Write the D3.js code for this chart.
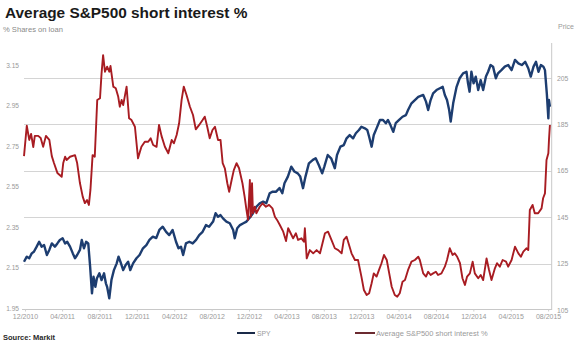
<!DOCTYPE html>
<html>
<head>
<meta charset="utf-8">
<script src="https://cdn.jsdelivr.net/npm/d3@7"></script>
<style>
  html, body { margin: 0; padding: 0; background: #fff; }
  svg { display: block; font-family: "Liberation Sans", Arial, sans-serif; }
</style>
</head>
<body>
<svg id="chart" width="586" height="355"></svg>
<script>
// ---------- DATA ----------
const titleText = "Average S&P500 short interest %";
const subtitleText = "% Shares on loan";
const rightAxisTitle = "Price";
const sourceText = "Source: Markit";

const leftTicks = [1.95, 2.15, 2.35, 2.55, 2.75, 2.95, 3.15];
const rightTicks = [105, 125, 145, 165, 185, 205];
const xTickDates = ["2010-12-31","2011-04-30","2011-08-29","2011-12-28","2012-04-27","2012-08-26",
  "2012-12-25","2013-04-25","2013-08-24","2013-12-23","2014-04-23","2014-08-22","2014-12-21",
  "2015-04-21","2015-08-20"];
const xTickLabels = ["12/2010","04/2011","08/2011","12/2011","04/2012","08/2012","12/2012",
  "04/2013","08/2013","12/2013","04/2014","08/2014","12/2014","04/2015","08/2015"];

const seriesNames = ["SPY", "Average S&P500 short interest %"];

// SPY price (right axis)
const spy = [
["2010-12-31",125.8],["2011-01-09",128.0],["2011-01-17",127.3],["2011-01-25",129.4],["2011-02-01",130.1],
["2011-02-10",132.3],["2011-02-18",134.4],["2011-02-26",132.3],["2011-03-06",133.0],["2011-03-15",128.7],
["2011-03-23",130.9],["2011-03-31",133.7],["2011-04-10",132.3],["2011-04-18",133.7],["2011-04-26",135.2],
["2011-05-05",135.9],["2011-05-13",133.7],["2011-05-20",134.4],["2011-05-29",132.3],["2011-06-07",129.4],
["2011-06-14",127.3],["2011-06-21",128.7],["2011-06-30",130.9],["2011-07-06",135.2],["2011-07-13",131.6],
["2011-07-20",134.4],["2011-07-27",133.7],["2011-08-02",123.7],["2011-08-08",112.2],["2011-08-13",119.4],
["2011-08-19",115.0],["2011-08-24",118.7],["2011-09-01",120.8],["2011-09-08",117.9],["2011-09-16",120.8],
["2011-09-22",116.5],["2011-09-26",115.0],["2011-10-03",110.0],["2011-10-10",117.9],["2011-10-18",122.2],
["2011-10-27",125.1],["2011-11-02",128.0],["2011-11-08",125.8],["2011-11-17",122.2],["2011-11-25",124.4],
["2011-12-03",125.8],["2011-12-10",122.2],["2011-12-19",125.1],["2011-12-30",127.3],["2012-01-09",128.7],
["2012-01-20",131.6],["2012-01-31",133.0],["2012-02-10",135.2],["2012-02-21",136.6],["2012-03-03",136.0],
["2012-03-13",139.5],["2012-03-24",140.9],["2012-04-04",138.7],["2012-04-14",137.3],["2012-04-25",139.5],
["2012-05-06",134.4],["2012-05-14",131.6],["2012-05-22",132.3],["2012-05-29",128.7],["2012-06-07",133.7],
["2012-06-18",134.4],["2012-06-29",133.7],["2012-07-10",135.2],["2012-07-20",137.3],["2012-07-31",138.7],
["2012-08-11",141.6],["2012-08-21",140.9],["2012-09-03",143.1],["2012-09-11",146.7],["2012-09-19",145.2],
["2012-09-27",145.9],["2012-10-05",144.5],["2012-10-16",143.1],["2012-10-27",142.4],["2012-11-07",139.5],
["2012-11-12",135.9],["2012-11-20",140.2],["2012-11-29",141.6],["2012-12-10",142.4],["2012-12-20",143.1],
["2012-12-31",144.9],["2013-01-10",146.7],["2013-01-21",149.5],["2013-02-01",151.0],["2013-02-12",151.7],
["2013-02-22",151.0],["2013-03-05",155.3],["2013-03-15",156.0],["2013-03-26",156.0],["2013-04-06",157.6],
["2013-04-15",155.3],["2013-04-22",159.6],["2013-05-03",162.5],["2013-05-14",166.8],["2013-05-24",164.7],
["2013-06-04",163.9],["2013-06-12",162.5],["2013-06-21",157.5],["2013-06-29",162.5],["2013-07-10",168.2],
["2013-07-23",169.7],["2013-08-01",170.4],["2013-08-11",167.5],["2013-08-22",163.9],["2013-08-29",166.8],
["2013-09-09",171.8],["2013-09-20",170.4],["2013-10-02",166.1],["2013-10-09",171.8],["2013-10-20",175.4],
["2013-10-31",176.1],["2013-11-09",179.0],["2013-11-19",180.4],["2013-11-30",179.0],["2013-12-09",181.2],
["2013-12-19",182.6],["2013-12-27",184.0],["2014-01-07",183.3],["2014-01-15",182.6],["2014-01-21",179.7],
["2014-01-29",175.4],["2014-02-05",180.4],["2014-02-14",183.3],["2014-02-25",186.9],["2014-03-07",186.9],
["2014-03-16",185.5],["2014-03-23",186.9],["2014-03-31",184.7],["2014-04-09",181.8],["2014-04-17",185.5],
["2014-04-28",186.9],["2014-05-09",188.3],["2014-05-20",189.0],["2014-05-27",191.2],["2014-06-07",194.1],
["2014-06-18",195.5],["2014-06-29",196.9],["2014-07-15",197.7],["2014-07-24",194.8],["2014-07-31",191.2],
["2014-08-08",195.5],["2014-08-16",198.4],["2014-08-27",199.8],["2014-09-07",200.6],["2014-09-16",201.2],
["2014-09-23",197.7],["2014-09-30",195.5],["2014-10-07",191.2],["2014-10-12",186.2],["2014-10-20",194.1],
["2014-10-31",201.2],["2014-11-10",204.9],["2014-11-21",207.0],["2014-12-02",207.7],["2014-12-07",202.7],
["2014-12-12",199.1],["2014-12-18",207.7],["2014-12-25",202.7],["2015-01-01",205.6],["2015-01-09",199.8],
["2015-01-17",204.1],["2015-01-25",199.8],["2015-02-03",205.6],["2015-02-10",207.7],["2015-02-18",210.6],
["2015-02-26",209.9],["2015-03-07",204.9],["2015-03-14",207.0],["2015-03-25",208.4],["2015-04-05",209.9],
["2015-04-16",210.6],["2015-04-27",208.4],["2015-05-08",212.8],["2015-05-19",211.3],["2015-05-30",210.6],
["2015-06-10",212.0],["2015-06-20",209.2],["2015-06-28",205.6],["2015-07-07",209.9],["2015-07-15",212.0],
["2015-07-23",207.7],["2015-07-31",210.6],["2015-08-08",209.9],["2015-08-13",208.4],["2015-08-19",198.4],
["2015-08-24",187.6],["2015-08-26",195.5],["2015-08-29",192.6]
];

// Average S&P500 short interest % (left axis)
const shortInterest = [
["2010-12-31",2.70],["2011-01-09",2.85],["2011-01-17",2.78],["2011-01-23",2.81],["2011-01-30",2.745],
["2011-02-04",2.80],["2011-02-15",2.80],["2011-02-23",2.79],["2011-03-03",2.746],["2011-03-12",2.80],
["2011-03-23",2.78],["2011-03-31",2.70],["2011-04-07",2.666],["2011-04-18",2.617],["2011-05-02",2.598],
["2011-05-07",2.666],["2011-05-13",2.697],["2011-05-18",2.681],["2011-05-29",2.697],["2011-06-14",2.705],
["2011-06-21",2.666],["2011-06-30",2.567],["2011-07-09",2.50],["2011-07-16",2.468],["2011-07-23",2.483],
["2011-07-29",2.459],["2011-08-03",2.533],["2011-08-10",2.705],["2011-08-17",2.697],["2011-08-25",2.977],
["2011-09-03",2.986],["2011-09-08",3.109],["2011-09-13",3.199],["2011-09-19",3.117],["2011-09-26",3.142],
["2011-10-03",3.117],["2011-10-07",3.145],["2011-10-16",3.043],["2011-10-24",3.035],["2011-11-01",2.993],
["2011-11-06",2.944],["2011-11-12",2.977],["2011-11-17",2.952],["2011-11-28",3.043],["2011-12-06",2.887],
["2011-12-14",2.878],["2011-12-25",2.845],["2012-01-04",2.689],["2012-01-15",2.746],["2012-01-26",2.771],
["2012-02-06",2.771],["2012-02-14",2.788],["2012-02-22",2.755],["2012-03-04",2.746],["2012-03-12",2.854],
["2012-03-20",2.80],["2012-03-31",2.746],["2012-04-11",2.714],["2012-04-22",2.78],["2012-04-29",2.763],
["2012-05-08",2.804],["2012-05-16",2.862],["2012-05-24",2.977],["2012-05-31",3.043],["2012-06-09",3.002],
["2012-06-20",2.944],["2012-06-30",2.903],["2012-07-09",2.832],["2012-07-20",2.854],["2012-07-31",2.878],
["2012-08-07",2.895],["2012-08-15",2.845],["2012-08-23",2.788],["2012-09-01",2.829],["2012-09-09",2.845],
["2012-09-19",2.78],["2012-09-27",2.78],["2012-10-04",2.665],["2012-10-11",2.64],["2012-10-19",2.566],
["2012-10-25",2.524],["2012-11-02",2.582],["2012-11-09",2.631],["2012-11-18",2.665],["2012-11-26",2.64],
["2012-12-07",2.566],["2012-12-14",2.50],["2012-12-20",2.434],["2012-12-25",2.385],["2012-12-31",2.582],
["2013-01-03",2.401],["2013-01-07",2.566],["2013-01-10",2.418],["2013-01-16",2.45],["2013-01-21",2.418],
["2013-02-01",2.45],["2013-02-10",2.467],["2013-02-21",2.45],["2013-03-03",2.459],["2013-03-14",2.442],
["2013-03-22",2.401],["2013-03-29",2.385],["2013-04-07",2.36],["2013-04-18",2.327],["2013-04-27",2.281],
["2013-05-04",2.344],["2013-05-12",2.319],["2013-05-20",2.294],["2013-05-29",2.319],["2013-06-05",2.286],
["2013-06-16",2.294],["2013-06-24",2.277],["2013-06-27",2.344],["2013-07-03",2.195],["2013-07-13",2.236],
["2013-07-24",2.22],["2013-08-04",2.236],["2013-08-15",2.22],["2013-08-23",2.27],["2013-08-31",2.319],
["2013-09-10",2.327],["2013-09-21",2.286],["2013-10-02",2.245],["2013-10-13",2.236],["2013-10-24",2.22],
["2013-10-31",2.286],["2013-11-09",2.302],["2013-11-17",2.261],["2013-11-25",2.22],["2013-12-06",2.187],
["2013-12-16",2.187],["2013-12-27",2.105],["2014-01-04",2.039],["2014-01-13",2.014],["2014-01-21",2.023],
["2014-01-29",2.072],["2014-02-05",2.121],["2014-02-14",2.105],["2014-02-22",2.138],["2014-03-02",2.171],
["2014-03-10",2.212],["2014-03-19",2.187],["2014-03-27",2.121],["2014-04-04",2.055],["2014-04-14",2.014],
["2014-04-22",2.006],["2014-04-30",2.023],["2014-05-09",2.08],["2014-05-17",2.088],["2014-05-27",2.138],
["2014-06-07",2.179],["2014-06-18",2.187],["2014-06-29",2.203],["2014-07-04",2.187],["2014-07-15",2.121],
["2014-07-24",2.105],["2014-07-31",2.129],["2014-08-08",2.113],["2014-08-16",2.121],["2014-08-25",2.129],
["2014-09-01",2.113],["2014-09-12",2.121],["2014-09-23",2.154],["2014-09-30",2.187],["2014-10-09",2.245],
["2014-10-18",2.212],["2014-10-25",2.22],["2014-11-02",2.203],["2014-11-11",2.171],["2014-11-19",2.097],
["2014-11-27",2.064],["2014-12-04",2.105],["2014-12-13",2.121],["2014-12-22",2.179],["2014-12-29",2.121],
["2015-01-09",2.097],["2015-01-17",2.113],["2015-01-25",2.088],["2015-02-05",2.195],["2015-02-13",2.138],
["2015-02-21",2.088],["2015-03-04",2.146],["2015-03-11",2.171],["2015-03-20",2.154],["2015-03-29",2.187],
["2015-04-09",2.179],["2015-04-16",2.154],["2015-04-27",2.187],["2015-05-08",2.253],["2015-05-19",2.22],
["2015-05-27",2.203],["2015-06-04",2.228],["2015-06-14",2.245],["2015-06-20",2.236],["2015-06-25",2.434],
["2015-07-04",2.459],["2015-07-11",2.418],["2015-07-22",2.418],["2015-08-02",2.442],["2015-08-07",2.492],
["2015-08-13",2.516],["2015-08-18",2.681],["2015-08-24",2.714],["2015-08-26",2.78],["2015-08-29",2.854]
];

// ---------- DRAW ----------
const parse = d3.timeParse("%Y-%m-%d");
const svg = d3.select("#chart");

const blue = "#1d3d70";
const red = "#a81c22";
const gridCol = "#d4d4d4";
const axisTextCol = "#9a9a9a";

const x = d3.scaleTime()
  .domain([parse("2010-12-31"), parse("2015-08-29")])
  .range([24, 549.9]);
const yL = d3.scaleLinear().domain([1.95, 3.15]).range([308, 65]);
const yR = d3.scaleLinear().domain([105, 205]).range([310, 78]);

// Title & subtitle
svg.append("text").attr("x", 5).attr("y", 17.5)
  .attr("font-size", 15.4).attr("font-weight", "bold").attr("fill", "#1a1a1a")
  .text(titleText);
svg.append("text").attr("x", 3).attr("y", 32)
  .attr("font-size", 7.6).attr("fill", "#8a8a8a")
  .text(subtitleText);
svg.append("text").attr("x", 558).attr("y", 28.5)
  .attr("font-size", 7).attr("fill", axisTextCol)
  .text(rightAxisTitle);

// Gridlines (aligned with right axis ticks)
svg.append("g").selectAll("line")
  .data(rightTicks.filter(d => d !== 105))
  .join("line")
  .attr("x1", 24).attr("x2", 551.7)
  .attr("y1", d => Math.round(yR(d)) + 0.5).attr("y2", d => Math.round(yR(d)) + 0.5)
  .attr("stroke", gridCol).attr("stroke-width", 1);

// Right axis vertical line
svg.append("line").attr("x1", 551.7).attr("x2", 551.7).attr("y1", 43).attr("y2", 310)
  .attr("stroke", "#c8c8c8").attr("stroke-width", 1);
// Bottom axis line
svg.append("line").attr("x1", 22).attr("x2", 552).attr("y1", 309.5).attr("y2", 309.5)
  .attr("stroke", "#c8c8c8").attr("stroke-width", 1);

// Left axis
const gL = svg.append("g").attr("transform", "translate(19,0)")
  .call(d3.axisLeft(yL).tickValues(leftTicks).tickFormat(d3.format(".2f")).tickSize(0).tickPadding(0));
gL.select(".domain").remove();
gL.selectAll("text").attr("font-size", 6.6).attr("fill", axisTextCol)
  .attr("font-family", "Liberation Sans, Arial, sans-serif");

// Right axis
const gR = svg.append("g").attr("transform", "translate(557,0)")
  .call(d3.axisRight(yR).tickValues(rightTicks).tickFormat(d3.format("d")).tickSize(0).tickPadding(0));
gR.select(".domain").remove();
gR.selectAll("text").attr("font-size", 6.8).attr("fill", axisTextCol)
  .attr("font-family", "Liberation Sans, Arial, sans-serif");

// Bottom axis
const tickDates = xTickDates.map(parse);
const gB = svg.append("g").attr("transform", "translate(1,309.5)")
  .call(d3.axisBottom(x).tickValues(tickDates).tickFormat((d, i) => xTickLabels[i]).tickSize(2).tickPadding(3));
gB.select(".domain").remove();
gB.selectAll(".tick line").attr("stroke", "#cfcfcf");
gB.selectAll("text").attr("font-size", 7).attr("fill", axisTextCol)
  .attr("font-family", "Liberation Sans, Arial, sans-serif");

// Lines
const lineR = d3.line().x(d => x(parse(d[0]))).y(d => yR(d[1]));
const lineL = d3.line().x(d => x(parse(d[0]))).y(d => yL(d[1]));

svg.append("path").datum(spy).attr("d", lineR)
  .attr("fill", "none").attr("stroke", blue).attr("stroke-width", 2.4)
  .attr("stroke-linejoin", "round");
svg.append("path").datum(shortInterest).attr("d", lineL)
  .attr("fill", "none").attr("stroke", red).attr("stroke-width", 1.9)
  .attr("stroke-linejoin", "round");

// Legend
const legend = svg.append("g");
legend.append("line").attr("x1", 237).attr("x2", 255).attr("y1", 333).attr("y2", 333)
  .attr("stroke", "#1a2a48").attr("stroke-width", 2);
legend.append("text").attr("x", 257).attr("y", 335.5).attr("font-size", 6.8).attr("fill", axisTextCol)
  .text(seriesNames[0]);
legend.append("line").attr("x1", 355).attr("x2", 375).attr("y1", 333).attr("y2", 333)
  .attr("stroke", "#6b2a30").attr("stroke-width", 2);
legend.append("text").attr("x", 376).attr("y", 335.5).attr("font-size", 7.5).attr("fill", axisTextCol)
  .text(seriesNames[1]);

// Source
svg.append("text").attr("x", 3).attr("y", 340).attr("font-size", 7.5).attr("font-weight", "bold")
  .attr("fill", "#2a2a2a").text(sourceText);
</script>
</body>
</html>
